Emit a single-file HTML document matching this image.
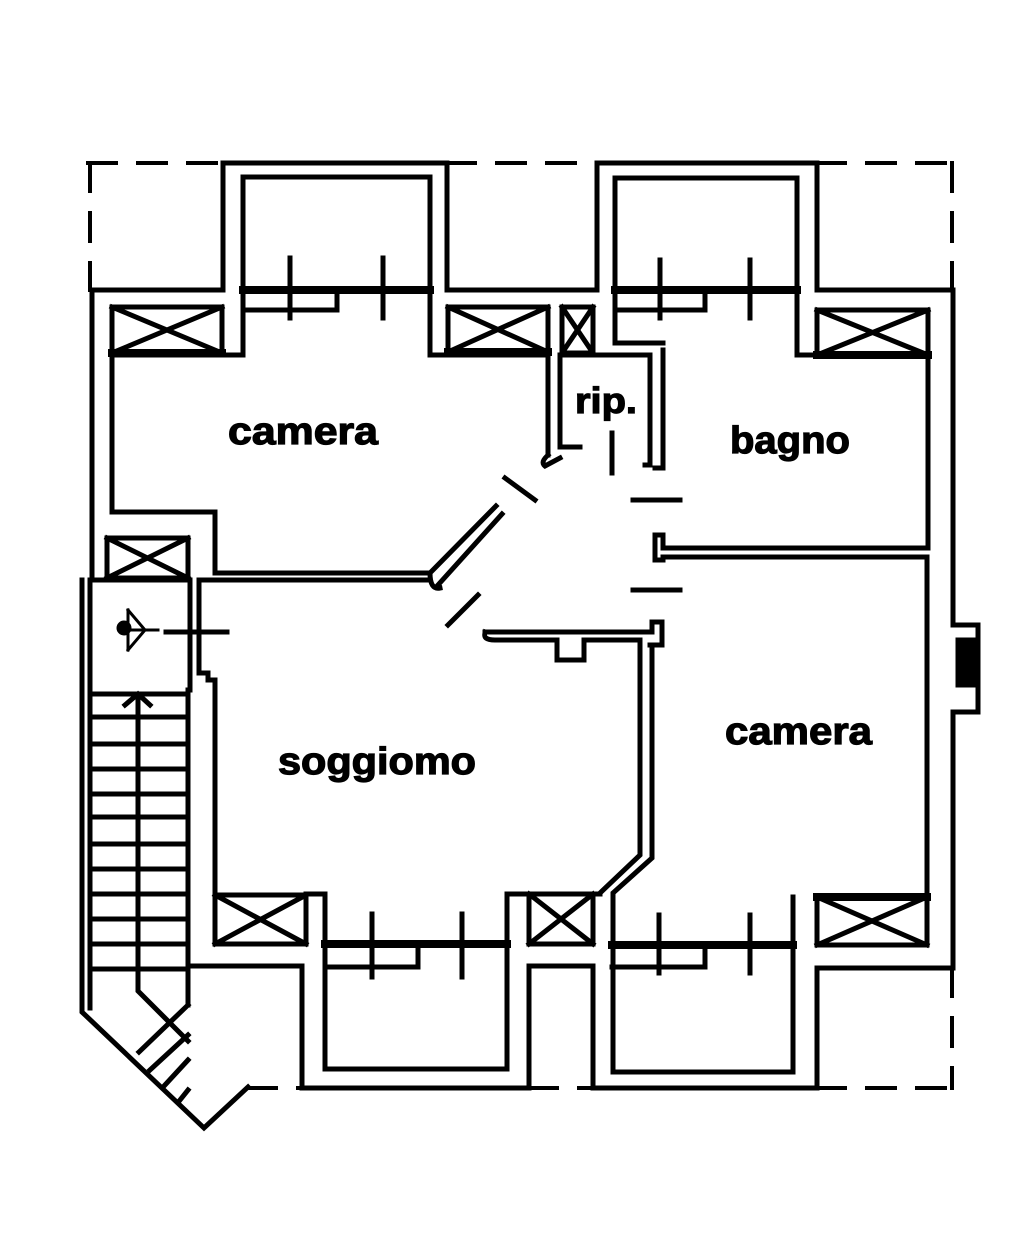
<!DOCTYPE html>
<html><head><meta charset="utf-8"><style>
html,body{margin:0;padding:0;background:#fff;}
svg{display:block}
text{font-family:"Liberation Sans",sans-serif;font-weight:bold;fill:#000;stroke:#000;stroke-width:1.2}
</style></head><body>
<svg width="1024" height="1255" viewBox="0 0 1024 1255" xmlns="http://www.w3.org/2000/svg">
<g fill="none" stroke="#000" stroke-width="5" stroke-linejoin="miter" stroke-linecap="square">
<g stroke-dasharray="28,22" stroke-width="4">
<path d="M88,163 H223 M447,163 H597 M817,163 H952"/>
<path d="M90,163 V290 M952,163 V290"/>
<path d="M952,968 V1088 M817,1088 H952 M529,1088 H593 M248,1088 H302"/>
</g>
<path d="M92,580 V290 H223 V163 H447 V290 H597 V163 H817 V290 H953 V625 H978 V712 H953 V968 H817 V1088 H593 V966 H529 V1088 H302 V966 H190"/>
<path d="M112,355 V512 H215 V573 H430"/>
<path d="M112,355 H243 V177 H430 V355 H548 V455"/>
<path d="M560,355 V447 H580"/>
<path d="M548,455 Q540,462 545,466 L560,458"/>
<path d="M243,290 H430" stroke-width="8"/>
<path d="M243,310 H337 V290"/>
<path d="M290,258 V318 M383,258 V318"/>
<path d="M112,307 H222 V353 H112 Z M112,307 L222,353 M222,307 L112,353"/>
<path d="M112,353 H222" stroke-width="8"/>
<path d="M448,307 H548 V352 H448 Z M448,307 L548,352 M548,307 L448,352"/>
<path d="M448,352 H548" stroke-width="8"/>
<path d="M562,307 H593 V353 H562 Z M562,307 L593,353 M593,307 L562,353"/>
<path d="M817,310 H928 V355 H817 Z M817,310 L928,355 M928,310 L817,355"/>
<path d="M817,355 H928" stroke-width="8"/>
<path d="M107,538 H188 V578 H107 Z M107,538 L188,578 M188,538 L107,578"/>
<path d="M215,895 H306 V944 H215 Z M215,895 L306,944 M306,895 L215,944"/>
<path d="M529,894 H593 V944 H529 Z M529,894 L593,944 M593,894 L529,944"/>
<path d="M817,897 H927 V945 H817 Z M817,897 L927,945 M927,897 L817,945"/>
<path d="M817,897 H927" stroke-width="8"/>
<path d="M560,355 H650 V465 H645"/>
<path d="M663,350 V468 H655"/>
<path d="M615,178 H797 V355 M615,178 V343 H663"/>
<path d="M612,433 V473"/>
<path d="M615,290 H797" stroke-width="8"/>
<path d="M615,310 H705 V290"/>
<path d="M660,260 V318 M750,260 V318"/>
<path d="M797,355 H928 V548 H663 V535 H655 V560 H663 V557 H927 V897"/>
<path d="M633,500 H680 M633,590 H680"/>
<path d="M505,478 L535,500 M448,625 L478,595"/>
<path d="M430,573 L496,506 M438,585 L502,514"/>
<path d="M430,573 Q430,590 440,588"/>
<path d="M485,632 Q482,640 495,640 H557 V660 H584 V640 H640 V647 M485,632 H652 V622 H662 V645 H650"/>
<path d="M640,647 V855 L600,893 M652,645 V858 L613,893 V1072 H793 V897"/>
<path d="M612,945 H793" stroke-width="8"/>
<path d="M612,967 H705 V945"/>
<path d="M659,915 V973 M750,915 V973"/>
<path d="M199,580 H430"/>
<path d="M199,580 V673 H208 V680 H215 V894"/>
<path d="M166,632 H227"/>
<path d="M325,894 V1069 H507 V894 H529 M593,894 H600"/>
<path d="M306,894 H325"/>
<path d="M325,944 H507" stroke-width="8"/>
<path d="M325,967 H418 V944"/>
<path d="M372,914 V977 M462,914 V977"/>
<path d="M958,640 H975 V660 H958 Z M958,665 H975 V685 H958 Z" fill="#000"/>
<path d="M82,580 V1012 L204,1128 L248,1087"/>
<path d="M90,580 H190 V690 M90,580 V1008"/>
<path d="M188,690 V1005 M92,694 H188 M92,717 H188 M92,744 H188 M92,769 H188 M92,794 H188 M92,817 H188 M92,844 H188 M92,869 H188 M92,894 H188 M92,919 H188 M92,944 H188 M92,969 H188"/>
<path d="M138,694 V991 L188,1041"/>
<path d="M125,705 L138,694 L150,705"/>
<path d="M139,1052 L188,1005 M150,1070 L188,1035 M165,1085 L188,1060 M180,1100 L188,1090"/>
<path d="M120,630 H158 M128,610 L128,650 M128,610 L145,630 L128,650" stroke-width="3"/>
<circle cx="124" cy="628" r="5" fill="#000"/>
</g>
<text x="228" y="444" font-size="38" textLength="150" lengthAdjust="spacingAndGlyphs">camera</text>
<text x="575" y="413" font-size="36" textLength="62" lengthAdjust="spacingAndGlyphs">rip.</text>
<text x="730" y="453" font-size="38" textLength="120" lengthAdjust="spacingAndGlyphs">bagno</text>
<text x="278" y="774" font-size="38" textLength="198" lengthAdjust="spacingAndGlyphs">soggiomo</text>
<text x="725" y="744" font-size="38" textLength="147" lengthAdjust="spacingAndGlyphs">camera</text>
</svg>
</body></html>
